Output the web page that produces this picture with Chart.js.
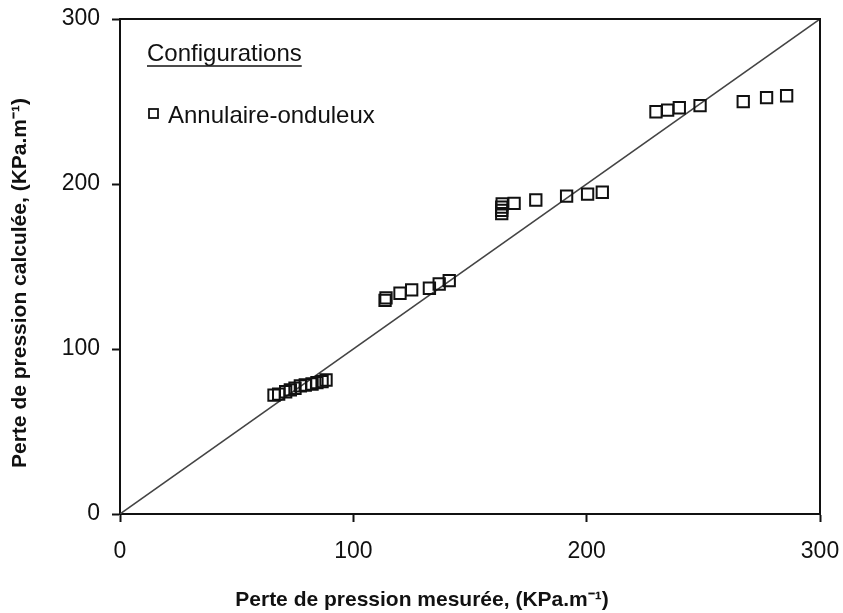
<!DOCTYPE html>
<html>
<head>
<meta charset="utf-8">
<script src="https://cdn.jsdelivr.net/npm/chart.js@4/dist/chart.umd.min.js"></script>
<style>
html,body{margin:0;padding:0;background:#fff;}
#wrap{width:843px;height:613px;position:relative;}
</style>
</head>
<body>
<div id="wrap"><canvas id="c" width="843" height="613"></canvas></div>
<script>
const measured = [66,68,71,73,75,77.3,79.4,82.3,84.4,86.6,88.3,
  113.6,114,120,125,132.6,136.8,141.1,
  163.6,163.6,163.6,163.8,168.9,178.2,191.4,200.4,206.7,
  229.7,234.7,239.7,248.6,267.1,277.1,285.7];
const calculated = [72.1,72.7,74.1,75.2,76.2,77.6,78.2,78.8,79.6,80.2,81.2,
  129.5,131,133.8,135.8,136.8,139.4,141.4,
  182,184,186,188,188.3,190.3,192.7,193.9,195,
  243.8,244.8,246.2,247.5,249.9,252.3,253.5];
const diagonalX = [0,300];
const diagonalY = [0,300];
const axisTicks = [0,100,200,300];
const seriesName = 'Annulaire-onduleux';
const legendTitle = 'Configurations';
const xTitle = 'Perte de pression mesurée, (KPa.m⁻¹)';
const yTitle = 'Perte de pression calculée, (KPa.m⁻¹)';

const FONT = "'Liberation Sans', Arial, sans-serif";

const framePlugin = {
  id: 'frame',
  afterDraw(chart) {
    const {ctx, chartArea: a} = chart;
    ctx.save();
    ctx.strokeStyle = '#111';
    ctx.lineWidth = 2;
    ctx.beginPath();
    ctx.moveTo(a.left, a.top); ctx.lineTo(a.right, a.top); ctx.lineTo(a.right, a.bottom);
    ctx.stroke();
    // legend
    ctx.fillStyle = '#111';
    ctx.font = '24px ' + FONT;
    ctx.textBaseline = 'alphabetic';
    ctx.textAlign = 'left';
    const tx = 147, ty = 61;
    ctx.fillText(legendTitle, tx, ty);
    const w = ctx.measureText(legendTitle).width;
    ctx.lineWidth = 1.5;
    ctx.beginPath(); ctx.moveTo(tx, ty + 5); ctx.lineTo(tx + w, ty + 5); ctx.stroke();
    ctx.lineWidth = 1.8;
    ctx.strokeRect(149, 109, 9, 9);
    ctx.fillText(seriesName, 168, 123);
    // axis titles
    ctx.font = 'bold 21px ' + FONT;
    ctx.textAlign = 'center';
    ctx.textBaseline = 'middle';
    ctx.fillText(xTitle, 422, 600);
    ctx.translate(20, 283);
    ctx.rotate(-Math.PI / 2);
    ctx.fillText(yTitle, 0, 0);
    ctx.restore();
  }
};

new Chart(document.getElementById('c'), {
  type: 'scatter',
  data: {
    datasets: [
      {
        label: 'y = x',
        type: 'line',
        data: diagonalX.map((x, i) => ({x, y: diagonalY[i]})),
        borderColor: '#444',
        borderWidth: 1.5,
        pointRadius: 0,
        fill: false,
        order: 2
      },
      {
        label: seriesName,
        data: measured.map((x, i) => ({x, y: calculated[i]})),
        pointStyle: 'rect',
        pointRadius: 8,
        pointBackgroundColor: 'rgba(255,255,255,0)',
        pointBorderColor: '#111',
        pointBorderWidth: 2,
        order: 1
      }
    ]
  },
  options: {
    responsive: false,
    animation: false,
    layout: {padding: {top: 19, right: 23, left: 0, bottom: 0}},
    plugins: {legend: {display: false}, tooltip: {enabled: false}},
    scales: {
      x: {
        type: 'linear', min: 0, max: 300,
        afterBuildTicks: s => { s.ticks = axisTicks.map(v => ({value: v})); },
        afterFit: s => { s.height = 99; s.paddingLeft = 0; s.paddingRight = 0; },
        grid: {drawOnChartArea: false, drawTicks: true, tickLength: 8, color: '#111', tickWidth: 2},
        border: {display: true, color: '#111', width: 2},
        ticks: {color: '#111', font: {family: FONT, size: 23}, padding: 16, maxRotation: 0},
        title: {display: false}
      },
      y: {
        type: 'linear', min: 0, max: 300,
        afterBuildTicks: s => { s.ticks = axisTicks.map(v => ({value: v})); },
        afterFit: s => { s.width = 120; s.paddingTop = 0; s.paddingBottom = 0; },
        grid: {drawOnChartArea: false, drawTicks: true, tickLength: 8, color: '#111', tickWidth: 2},
        border: {display: true, color: '#111', width: 2},
        ticks: {color: '#111', font: {family: FONT, size: 23}, padding: 12},
        title: {display: false}
      }
    }
  },
  plugins: [framePlugin]
});
</script>
</body>
</html>
